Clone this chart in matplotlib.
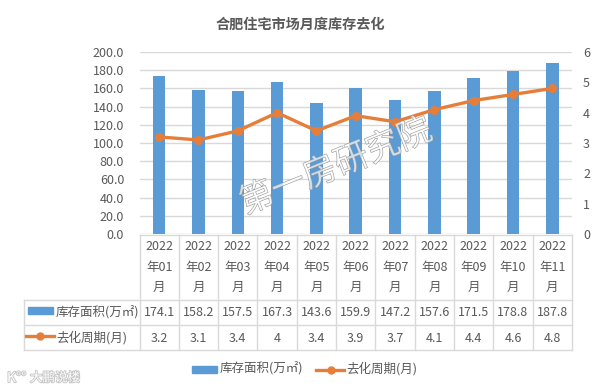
import matplotlib
matplotlib.use('Agg')
import matplotlib.pyplot as plt
from matplotlib.lines import Line2D
from matplotlib.patches import Rectangle
import matplotlib.patheffects as pe

plt.rcParams['font.family'] = ['Noto Sans CJK SC', 'DejaVu Sans']

months = ['2022\n年%s\n月' % m for m in ['01','02','03','04','05','06','07','08','09','10','11']]
stock = [174.1,158.2,157.5,167.3,143.6,159.9,147.2,157.6,171.5,178.8,187.8]
cycle = [3.2,3.1,3.4,4,3.4,3.9,3.7,4.1,4.4,4.6,4.8]
stock_name = '库存面积(万㎡)'
cycle_name = '去化周期(月)'
title = '合肥住宅市场月度库存去化'

BLUE = '#5B9BD5'; ORANGE = '#E67E3A'; TXT = '#595959'; GRID = '#D9D9D9'
FS = 9
W, H = 600, 390
fig = plt.figure(figsize=(W/100, H/100), dpi=100, facecolor='white')
def fx(x): return x/W
def fy(y): return 1-y/H
L, R, T, B = 139.5, 572.0, 52.0, 234.0
ax = fig.add_axes([fx(L), fy(B), (R-L)/W, (B-T)/H])
x = list(range(len(months)))
ax.bar(x, stock, width=0.32, color=BLUE, zorder=2)
ax.set_xlim(-0.5, 10.5); ax.set_ylim(0, 200)
ax.set_yticks(range(0, 201, 20))
ax.set_yticklabels(['%.1f' % v for v in range(0, 201, 20)], fontsize=FS, color=TXT)
ax.set_xticks([])
ax.grid(axis='y', color=GRID, lw=1, zorder=0)
ax.tick_params(axis='y', length=0, pad=11)
for s in ax.spines.values(): s.set_visible(False)
ax2 = ax.twinx()
ax2.plot(x, cycle, color=ORANGE, lw=2.4, marker='o', ms=5.5, zorder=3)
ax2.set_ylim(0, 6); ax2.set_yticks(range(7))
ax2.set_yticklabels([str(v) for v in range(7)], fontsize=FS, color=TXT)
ax2.tick_params(axis='y', length=0, pad=8)
for s in ax2.spines.values(): s.set_visible(False)

fig.text(fx(300), fy(25), title, ha='center', va='center', fontsize=10.2, fontweight='bold', color=TXT)

def hline(y, x0, x1): fig.add_artist(Line2D([fx(x0), fx(x1)], [fy(y), fy(y)], color=GRID, lw=1))
def vline(xp, y0, y1): fig.add_artist(Line2D([fx(xp), fx(xp)], [fy(y0), fy(y1)], color=GRID, lw=1))
hline(234.5, L, R); hline(300, 23.5, R); hline(325, 23.5, R); hline(350, 23.5, R)
vline(23.5, 300, 350)
cw = (R-L)/len(months)
for i in range(len(months)+1):
    vline(L+i*cw, 234.5, 350)
for i, m in enumerate(months):
    cx = L+(i+.5)*cw
    for j, line in enumerate(m.split('\n')):
        fig.text(fx(cx), fy(246.5+j*20.5), line, ha='center', va='center', fontsize=FS, color=TXT)
    fig.text(fx(cx), fy(312.5), '%.1f' % stock[i], ha='center', va='center', fontsize=FS, color=TXT)
    fig.text(fx(cx), fy(338), '%g' % cycle[i], ha='center', va='center', fontsize=FS, color=TXT)

fig.add_artist(Rectangle((fx(28), fy(314)), 25/W, 7/H, color=BLUE, transform=fig.transFigure))
fig.text(fx(56), fy(313), stock_name, ha='left', va='center', fontsize=FS, color=TXT)
fig.add_artist(Line2D([fx(26), fx(54)], [fy(336), fy(336)], color=ORANGE, lw=2.4))
fig.add_artist(Line2D([fx(40)], [fy(336)], color=ORANGE, marker='o', ms=5))
fig.text(fx(56), fy(338), cycle_name, ha='left', va='center', fontsize=FS, color=TXT)

fig.add_artist(Rectangle((fx(192), fy(373)), 25/W, 7/H, color=BLUE, transform=fig.transFigure))
fig.text(fx(220), fy(369), stock_name, ha='left', va='center', fontsize=FS, color=TXT)
fig.add_artist(Line2D([fx(316), fx(344)], [fy(369.5), fy(369.5)], color=ORANGE, lw=2.4))
fig.add_artist(Line2D([fx(331)], [fy(369.5)], color=ORANGE, marker='o', ms=5))
fig.text(fx(346), fy(369), cycle_name, ha='left', va='center', fontsize=FS, color=TXT)

t = fig.text(fx(336), fy(167), '第一房研究院', ha='center', va='center', fontsize=24.5, rotation=22,
             color=(1, 1, 1, 0.45), zorder=10)
t.set_path_effects([pe.Stroke(linewidth=0.5, foreground='#8a8a8a'), pe.Normal()])
w = fig.text(fx(30), fy(378), '大鹏说楼', ha='left', va='center', fontsize=9, color='white')
w.set_path_effects([pe.Stroke(linewidth=1.3, foreground='#c4c4c4'), pe.Normal()])
k = fig.text(fx(7), fy(378), 'K°°', ha='left', va='center', fontsize=10, color='white')
k.set_path_effects([pe.Stroke(linewidth=1.3, foreground='#c4c4c4'), pe.Normal()])

fig.savefig('out.png', dpi=100)
